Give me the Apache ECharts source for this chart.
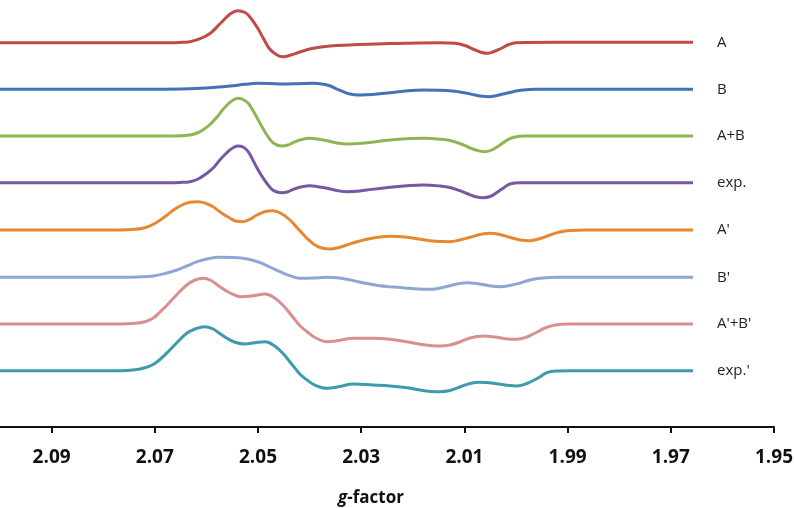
<!DOCTYPE html>
<html>
<head>
<meta charset="utf-8">
<script src="https://cdn.jsdelivr.net/npm/echarts@6/dist/echarts.min.js"></script>
<style>
html,body{margin:0;padding:0;background:#fff;}
#chart{width:794px;height:508px;}
</style>
</head>
<body>
<div id="chart"></div>
<script>
// g-factor tick labels shown on the axis
const tickValues = [2.09, 2.07, 2.05, 2.03, 2.01, 1.99, 1.97, 1.95];

const seriesNames = ["A", "B", "A+B", "exp.", "A'", "B'", "A'+B'", "exp.'"];
const seriesColors = ["#BF4B48", "#4273B5", "#8FB453", "#7659A2", "#E8872F", "#8EA7D2", "#D78F90", "#3D9BB0"];

// [g-factor, stacked intensity (arb. units)]
const dataA = [[2.1000,384.3],[2.0709,384.3],[2.0651,384.6],[2.0632,385.3],[2.0612,388.3],[2.0593,393.5],[2.0574,403],[2.0554,413],[2.0539,416.3],[2.0525,414.5],[2.0516,410.3],[2.0502,400],[2.0490,389],[2.0477,377.7],[2.0463,372],[2.0452,370.3],[2.0438,371.7],[2.0419,375],[2.0393,378.7],[2.0360,381],[2.0322,382],[2.0244,383.5],[2.0147,384.3],[2.0118,383.8],[2.0099,381.5],[2.0079,377],[2.0066,374.5],[2.0056,373.7],[2.0045,375],[2.0031,378],[2.0016,382],[2.0000,384.3],[1.9915,384.7],[1.9657,384.7]];
const dataB = [[2.1000,337.7],[2.0709,337.7],[2.0651,338],[2.0612,338.7],[2.0583,339.7],[2.0554,341],[2.0525,342.7],[2.0502,343.7],[2.0477,343.5],[2.0452,343],[2.0422,343.3],[2.0393,343.7],[2.0376,343],[2.0360,341],[2.0347,338],[2.0335,335.3],[2.0322,333],[2.0306,332],[2.0289,332.3],[2.0269,333],[2.0244,334.3],[2.0215,336],[2.0180,337],[2.0147,336.7],[2.0124,336],[2.0109,335],[2.0095,333.7],[2.0079,332],[2.0064,330.7],[2.0054,330.3],[2.0041,331],[2.0025,333],[2.0006,335.3],[1.9986,337],[1.9963,337.7],[1.9657,337.7]];
const dataAB = [[2.1000,291],[2.0709,291],[2.0651,291.3],[2.0632,292],[2.0618,294],[2.0607,297],[2.0593,302.5],[2.0579,310.3],[2.0568,317.5],[2.0558,323],[2.0548,327],[2.0539,328.7],[2.0529,327.5],[2.0519,323.7],[2.0508,315],[2.0496,303.7],[2.0484,293],[2.0473,285.3],[2.0463,282],[2.0453,281],[2.0442,282],[2.0432,284.3],[2.0417,287.3],[2.0399,288.7],[2.0384,288],[2.0366,286.3],[2.0347,284],[2.0328,283],[2.0308,283.5],[2.0289,284.3],[2.0244,287],[2.0205,288.5],[2.0176,288.7],[2.0147,287.8],[2.0128,286.5],[2.0109,283.5],[2.0093,280],[2.0078,277],[2.0060,275.3],[2.0047,277],[2.0031,282],[2.0017,287],[2.0004,289.7],[1.9983,291],[1.9657,291]];
const dataExp = [[2.1000,244.3],[2.0709,244.3],[2.0651,244.6],[2.0632,245.3],[2.0616,248],[2.0599,253.7],[2.0585,260],[2.0574,267],[2.0562,273.5],[2.0552,278],[2.0539,281],[2.0529,280],[2.0519,275.3],[2.0508,265],[2.0496,253.7],[2.0484,244.5],[2.0473,237.7],[2.0463,235],[2.0453,234.3],[2.0442,235.3],[2.0432,237.7],[2.0417,240],[2.0399,241.3],[2.0384,240.3],[2.0366,238.7],[2.0347,236.5],[2.0328,235.3],[2.0308,235.7],[2.0289,237],[2.0244,239.7],[2.0205,241.5],[2.0180,242],[2.0147,241],[2.0128,239.5],[2.0109,236.3],[2.0093,233],[2.0078,230.3],[2.0064,229.3],[2.0050,230.5],[2.0035,235.3],[2.0023,239.5],[2.0012,243],[1.9992,244.3],[1.9657,244.3]];
const dataA2 = [[2.1000,197],[2.0767,197],[2.0738,197.7],[2.0719,199.3],[2.0700,203.5],[2.0680,210.5],[2.0661,218],[2.0645,222.5],[2.0632,224.7],[2.0616,225.3],[2.0601,223.7],[2.0587,220.3],[2.0572,214.5],[2.0554,208.7],[2.0543,206],[2.0531,205.3],[2.0517,207.5],[2.0502,212],[2.0486,215.5],[2.0471,216.3],[2.0455,213.5],[2.0438,207],[2.0422,198],[2.0405,188.7],[2.0391,182.5],[2.0378,179.3],[2.0360,178],[2.0345,179.3],[2.0328,182],[2.0308,185.3],[2.0289,187.7],[2.0267,189.7],[2.0244,190.7],[2.0215,190],[2.0186,187.7],[2.0157,185.7],[2.0128,185.3],[2.0109,187],[2.0089,189.7],[2.0070,192.5],[2.0050,193.7],[2.0031,192.5],[2.0012,189.7],[1.9992,187],[1.9973,186.3],[1.9953,188.5],[1.9934,192],[1.9915,195],[1.9895,196.5],[1.9866,197],[1.9657,197]];
const dataB2 = [[2.1000,149.7],[2.0767,149.7],[2.0729,150.2],[2.0703,151],[2.0680,153.5],[2.0657,157],[2.0638,161],[2.0618,165.3],[2.0597,168.3],[2.0574,169.7],[2.0550,169.5],[2.0529,168.7],[2.0512,167],[2.0496,164.3],[2.0477,160],[2.0457,155.3],[2.0438,151.3],[2.0419,148.7],[2.0393,148.9],[2.0366,149.7],[2.0347,149.2],[2.0328,147.7],[2.0306,145.3],[2.0283,143],[2.0264,141.3],[2.0244,140.3],[2.0215,139],[2.0190,138],[2.0172,137.7],[2.0153,138.3],[2.0134,140.5],[2.0114,143],[2.0095,144.3],[2.0076,143.5],[2.0054,141.5],[2.0031,140.3],[2.0012,141.5],[1.9992,144],[1.9973,147],[1.9948,149],[1.9921,149.7],[1.9657,149.7]];
const dataAB2 = [[2.1000,103],[2.0767,103],[2.0738,103.7],[2.0719,105.3],[2.0703,109],[2.0690,115],[2.0676,122],[2.0657,132.5],[2.0638,142],[2.0622,147],[2.0607,148.7],[2.0591,146.5],[2.0574,140.3],[2.0554,134],[2.0533,130.3],[2.0512,131],[2.0486,133],[2.0469,129.5],[2.0452,122],[2.0434,111],[2.0419,101.5],[2.0405,95.3],[2.0388,89],[2.0366,85.3],[2.0341,86.7],[2.0316,88.7],[2.0277,88.7],[2.0244,87.7],[2.0215,85.5],[2.0186,82.7],[2.0163,81.3],[2.0147,81],[2.0128,82],[2.0109,85],[2.0089,89],[2.0064,91],[2.0041,90],[2.0021,88.3],[1.9998,87.7],[1.9979,90],[1.9959,95],[1.9944,99],[1.9924,102],[1.9895,103],[1.9657,103]];
const dataExp2 = [[2.1000,56.3],[2.0767,56.3],[2.0738,57.3],[2.0719,59.3],[2.0703,62.5],[2.0690,67.5],[2.0671,77],[2.0655,85.5],[2.0638,93.7],[2.0622,98],[2.0603,100.3],[2.0587,98],[2.0574,93.5],[2.0560,88.7],[2.0543,84.5],[2.0525,83],[2.0506,84.3],[2.0486,85.3],[2.0469,81.5],[2.0452,73.7],[2.0434,62.5],[2.0419,53],[2.0405,47],[2.0388,41.5],[2.0366,38.7],[2.0341,40.5],[2.0316,43],[2.0277,42],[2.0244,41],[2.0215,39.5],[2.0186,37],[2.0163,35.5],[2.0147,35.3],[2.0128,36.5],[2.0109,40],[2.0089,43.5],[2.0070,44.7],[2.0047,44],[2.0021,42],[1.9998,41],[1.9979,43.5],[1.9959,48.5],[1.9940,54.3],[1.9919,56],[1.9895,56.3],[1.9657,56.3]];

const allData = [dataA, dataB, dataAB, dataExp, dataA2, dataB2, dataAB2, dataExp2];

const chart = echarts.init(document.getElementById('chart'), null, {renderer: 'canvas'});
chart.setOption({
  animation: false,
  backgroundColor: '#ffffff',
  grid: {left: 0, right: 20, top: 0, bottom: 81, containLabel: false, outerBoundsMode: 'none'},
  xAxis: {
    type: 'value',
    min: 1.95,
    max: 2.10,
    interval: 0.02,
    inverse: true,
    name: '{i|g}-factor',
    nameLocation: 'middle',
    nameGap: 63,
    nameTextStyle: {
      fontFamily: 'Open Sans',
      fontWeight: 'bold',
      fontSize: 17,
      color: '#111',
      padding: [0, 32, 0, 0],
      rich: {i: {fontStyle: 'italic', fontWeight: 'bold', fontFamily: 'Open Sans', fontSize: 17, color: '#111'}}
    },
    splitLine: {show: false},
    axisLine: {show: true, lineStyle: {color: '#111', width: 2}},
    axisTick: {show: true, length: 6, lineStyle: {color: '#111', width: 2}, customValues: tickValues},
    axisLabel: {
      customValues: tickValues,
      margin: 21,
      fontFamily: 'Open Sans',
      fontWeight: 'bold',
      fontSize: 19,
      color: '#111',
      formatter: v => v.toFixed(2)
    }
  },
  yAxis: {type: 'value', min: 0, max: 427, show: false},
  series: seriesNames.map((n, i) => ({
    name: n,
    type: 'line',
    data: allData[i],
    smooth: 0.4,
    symbol: 'none',
    lineStyle: {color: seriesColors[i], width: 3},
    itemStyle: {color: seriesColors[i]},
    endLabel: {
      show: true,
      formatter: '{a}',
      distance: 0,
      align: 'left',
      offset: [24, 0],
      fontFamily: 'Open Sans',
      fontSize: 15,
      color: '#222'
    }
  }))
});
</script>
</body>
</html>
